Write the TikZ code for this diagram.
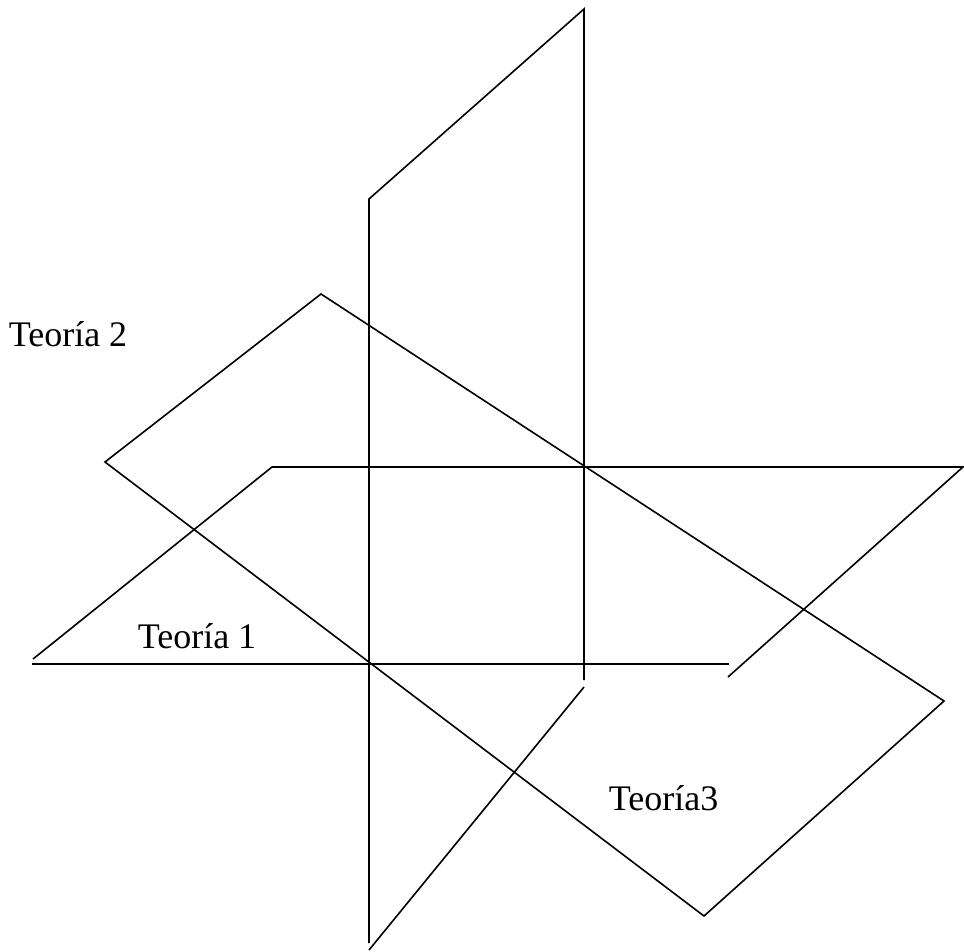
\documentclass[tikz,border=0pt]{standalone}
\usepackage{fontspec}
\setmainfont{Liberation Serif}
\usepackage{tikz}
\usetikzlibrary{calc}

\begin{document}
\begin{tikzpicture} [x=1pt, y=-1pt,
    line width=1.6pt,
    every node/.style={inner sep=0pt, anchor=base west, font=\fontsize{36}{42}\selectfont}]
  \useasboundingbox (0,0) rectangle (964,951);

  % plano horizontal (Teoria 1)
  \coordinate (A1) at (272,467);
  \coordinate (A2) at (963,467);
  \coordinate (A3) at (728,677);
  \coordinate (A4) at (729,664);
  \coordinate (A5) at (32,664);
  \coordinate (A6) at (33,659);

  % plano vertical
  \coordinate (B1) at (584,9);
  \coordinate (B2) at (369,199);
  \coordinate (B3) at (369,943);
  \coordinate (B4) at (584,680);
  \coordinate (B5) at (584,687);
  \coordinate (B6) at (369,950);

  % plano inclinado (Teoria 3)
  \coordinate (C1) at (321,294);
  \coordinate (C2) at (105,462);
  \coordinate (C3) at (704,916);
  \coordinate (C4) at (944,701);

  \draw (A6) -- (A1) -- (A2) -- (A3);
  \draw (A5) -- (A4);

  \draw (B3) -- (B2) -- (B1) -- (B4);
  \draw (B5) -- (B6);

  \draw (C1) -- (C2) -- (C3) -- (C4) -- cycle;

  \node (t2) at (8,346)   {Teoría 2};
  \node (t1) at (137,648) {Teoría 1};
  \node (t3) at (608,810) {Teoría3};
\end{tikzpicture}
\end{document}
